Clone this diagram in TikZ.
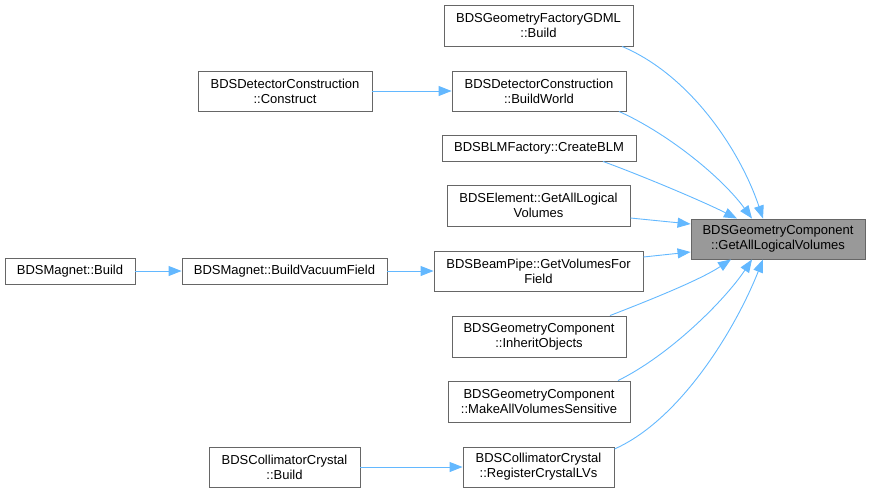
\documentclass[tikz,border=0pt]{standalone}
\usepackage{fontspec}
\setmainfont{Liberation Sans}
\usetikzlibrary{arrows.meta}
\definecolor{edgeblue}{HTML}{63B8FF}
\definecolor{boxline}{HTML}{666666}
\definecolor{targetfill}{HTML}{999999}
\begin{document}
\begin{tikzpicture}[x=1pt,y=-1pt,
  fn/.style={draw=boxline, line width=0.9pt, fill=white, inner sep=0pt, align=center,
    font=\fontsize{13}{15}\selectfont},
  tgt/.style={fn, fill=targetfill},
  call/.style={draw=edgeblue, line width=0.9pt, -{Triangle[length=13pt,width=10pt]}}]
\useasboundingbox (0,0) rectangle (870,493);

\node[tgt, minimum width=174pt, minimum height=40pt] (target) at (778,239) {BDSGeometryComponent\\::GetAllLogicalVolumes};

\node[fn, minimum width=189pt, minimum height=41pt] (gdml) at (538.5,25.5) {BDSGeometryFactoryGDML\\::Build};
\node[fn, minimum width=174pt, minimum height=40pt] (bw) at (539,91) {BDSDetectorConstruction\\::BuildWorld};
\node[fn, minimum width=174pt, minimum height=40pt] (cons) at (285,91) {BDSDetectorConstruction\\::Construct};
\node[fn, minimum width=194pt, minimum height=26pt] (blm) at (539,148) {BDSBLMFactory::CreateBLM};
\node[fn, minimum width=183pt, minimum height=41pt] (elem) at (538.5,205.5) {BDSElement::GetAllLogical\\Volumes};
\node[fn, minimum width=209pt, minimum height=40pt] (bp) at (538.5,271) {BDSBeamPipe::GetVolumesFor\\Field};
\node[fn, minimum width=130pt, minimum height=26pt] (mb) at (70,271) {BDSMagnet::Build};
\node[fn, minimum width=205pt, minimum height=26pt] (bvf) at (284.5,271) {BDSMagnet::BuildVacuumField};
\node[fn, minimum width=174pt, minimum height=41pt] (inh) at (539,336.5) {BDSGeometryComponent\\::InheritObjects};
\node[fn, minimum width=182pt, minimum height=41pt] (mak) at (539,401.5) {BDSGeometryComponent\\::MakeAllVolumesSensitive};
\node[fn, minimum width=151pt, minimum height=40pt] (reg) at (538.5,467) {BDSCollimatorCrystal\\::RegisterCrystalLVs};
\node[fn, minimum width=151pt, minimum height=40pt] (ccb) at (284.5,467) {BDSCollimatorCrystal\\::Build};

% edges into target
\draw[call] ([xshift=83.5pt]gdml.south) .. controls (690,75) and (740,150) .. ([xshift=-15pt]target.north);
\draw[call] ([xshift=80pt]bw.south) .. controls (665,132) and (720,175) .. ([xshift=-26pt]target.north);
\draw[call] ([xshift=64pt]blm.south) .. controls (640,175) and (700,200) .. ([xshift=-41pt]target.north);
\draw[call] ([yshift=-12.5pt]elem.east) -- ([yshift=15pt]target.west);
\draw[call] ([yshift=14pt]bp.east) -- ([yshift=-13pt]target.west);
\draw[call] ([xshift=71pt]inh.north) .. controls (650,300) and (700,280) .. ([xshift=-47pt]target.south);
\draw[call] ([xshift=79pt]mak.north) .. controls (670,355) and (725,300) .. ([xshift=-26pt]target.south);
\draw[call] ([yshift=18pt]reg.east) .. controls (680,420) and (735,330) .. ([xshift=-15pt]target.south);

% horizontal edges
\draw[call] (cons.east) -- (bw.west);
\draw[call] (mb.east) -- (bvf.west);
\draw[call] (bvf.east) -- (bp.west);
\draw[call] (ccb.east) -- (reg.west);
\end{tikzpicture}
\end{document}
